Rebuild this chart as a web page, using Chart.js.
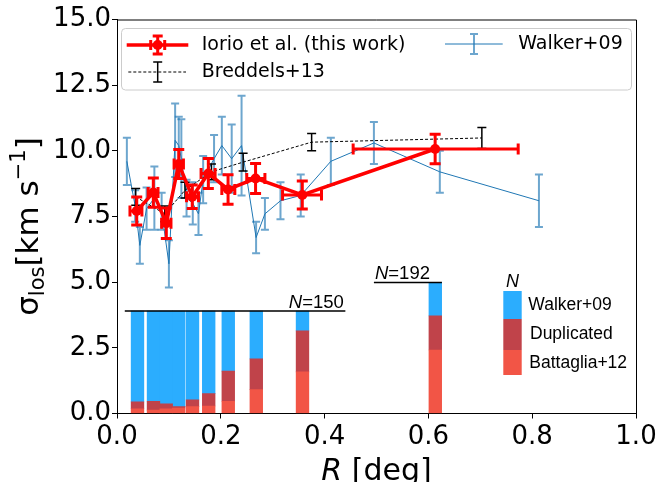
<!DOCTYPE html>
<html>
<head>
<meta charset="utf-8">
<script src="https://cdn.jsdelivr.net/npm/chart.js@4.4.0/dist/chart.umd.min.js"></script>
<style>
html,body{margin:0;padding:0;background:#fff;}
#wrap{width:671px;height:482px;}
</style>
</head>
<body>
<div id="wrap"><canvas id="chart" width="671" height="482"></canvas></div>
<script>
// Iorio et al. (this work): binned dispersion profile
const iorioR   = [0.038, 0.070, 0.095, 0.119, 0.145, 0.176, 0.214, 0.267, 0.357, 0.613];
const iorioRLo = [0.025, 0.060, 0.086, 0.110, 0.134, 0.162, 0.202, 0.250, 0.319, 0.455];
const iorioRHi = [0.048, 0.079, 0.104, 0.128, 0.157, 0.189, 0.227, 0.285, 0.394, 0.773];
const iorioSig = [7.71, 8.41, 7.24, 9.50, 8.25, 9.14, 8.53, 8.95, 8.32, 10.07];
const iorioErr = [0.53, 0.56, 0.58, 0.55, 0.45, 0.57, 0.56, 0.57, 0.53, 0.56];

// Breddels+13
const bredR   = [0.036, 0.092, 0.131, 0.182, 0.243, 0.375, 0.703];
const bredSig = [8.25, 7.60, 8.50, 9.20, 9.57, 10.33, 10.49];
const bredErr = [0.32, 0.30, 0.30, 0.30, 0.34, 0.33, 0.40];

// Walker+09
const walkR   = [0.019, 0.035, 0.044, 0.057, 0.072, 0.086, 0.100, 0.112, 0.119, 0.124, 0.134, 0.146, 0.157,
                 0.166, 0.187, 0.202, 0.221, 0.240, 0.268, 0.285, 0.315, 0.354, 0.412, 0.495, 0.622, 0.813];
const walkSig = [9.6, 7.9, 6.4, 7.8, 8.2, 7.7, 5.7, 10.4, 10.2, 9.7, 8.2, 8.0, 7.6,
                 8.9, 9.7, 10.2, 9.7, 10.2, 6.7, 7.6, 8.1, 8.3, 9.6, 10.3, 9.2, 8.1];
const walkErr = [0.9, 0.6, 0.7, 0.8, 1.2, 0.7, 0.9, 1.4, 1.1, 1.5, 0.7, 0.8, 0.8,
                 0.9, 0.9, 1.1, 1.3, 1.9, 0.6, 0.6, 0.7, 0.8, 0.9, 0.8, 0.8, 1.0];

// histogram of stars per radial bin
const binR        = [0.0395, 0.0703, 0.0948, 0.1189, 0.1455, 0.1767, 0.2144, 0.2684, 0.3574, 0.6133];
const nBattaglia  = [7, 5, 7, 8, 10, 11, 18, 35, 61, 93];
const nDuplicated = [10, 13, 7, 2, 10, 18, 44, 45, 60, 50];
const nWalker     = [133, 132, 136, 140, 130, 121, 88, 70, 29, 49];
const histScale = 3.9 / 150;   // stars -> axis units

const xTicks = [0, 0.2, 0.4, 0.6, 0.8, 1.0];
const yTicks = [0, 2.5, 5, 7.5, 10, 12.5, 15];

const RED = "#ff0000", BLUE = "#1f77b4", BLACK = "#000000";
const C_WALK = "#2badfe", C_DUP = "#c0434a", C_BAT = "#f25546";

function pts(xs, ys){ return xs.map((x,i)=>({x, y:ys[i]})); }

function histLayer(lo, hi){
  return binR.map((x,i)=>({x, y:[lo[i]*histScale, hi[i]*histScale]}));
}
const cumBat = nBattaglia;
const cumDup = nBattaglia.map((b,i)=>b+nDuplicated[i]);
const cumAll = cumDup.map((d,i)=>d+nWalker[i]);
const zeros = binR.map(()=>0);

const barBase = { type:"bar", grouped:false, barThickness:12.7, borderWidth:0, order:10 };

const errPlugin = {
  id:"errs",
  afterDatasetDraw(chart, args){
    const ds = chart.data.datasets[args.index];
    const e = ds.err;
    if(!e) return;
    const xs = chart.scales.x, ys = chart.scales.y, ctx = chart.ctx;
    ctx.save();
    ctx.strokeStyle = e.color; ctx.lineWidth = e.width; ctx.setLineDash([]);
    e.x.forEach((xv,i)=>{
      const px = xs.getPixelForValue(xv), py = ys.getPixelForValue(e.y[i]);
      const y0 = ys.getPixelForValue(e.y[i]-e.dy[i]), y1 = ys.getPixelForValue(e.y[i]+e.dy[i]);
      ctx.beginPath();
      ctx.moveTo(px,y0); ctx.lineTo(px,y1);
      ctx.moveTo(px-e.cap,y0); ctx.lineTo(px+e.cap,y0);
      ctx.moveTo(px-e.cap,y1); ctx.lineTo(px+e.cap,y1);
      if(e.xlo){
        const x0 = xs.getPixelForValue(e.xlo[i]), x1 = xs.getPixelForValue(e.xhi[i]);
        ctx.moveTo(x0,py); ctx.lineTo(x1,py);
        ctx.moveTo(x0,py-e.cap); ctx.lineTo(x0,py+e.cap);
        ctx.moveTo(x1,py-e.cap); ctx.lineTo(x1,py+e.cap);
      }
      ctx.stroke();
    });
    ctx.restore();
  }
};

function drawErrSymbol(ctx, cx, cy, h, cap, color, w, wx){
  ctx.strokeStyle = color; ctx.lineWidth = w; ctx.setLineDash([]);
  ctx.beginPath();
  ctx.moveTo(cx,cy-h); ctx.lineTo(cx,cy+h);
  ctx.moveTo(cx-cap,cy-h); ctx.lineTo(cx+cap,cy-h);
  ctx.moveTo(cx-cap,cy+h); ctx.lineTo(cx+cap,cy+h);
  if(wx){
    ctx.moveTo(cx-wx,cy-cap); ctx.lineTo(cx-wx,cy+cap);
    ctx.moveTo(cx+wx,cy-cap); ctx.lineTo(cx+wx,cy+cap);
  }
  ctx.stroke();
}

const decoPlugin = {
  id:"deco",
  afterDraw(chart){
    const ctx = chart.ctx, a = chart.chartArea, xs = chart.scales.x, ys = chart.scales.y;
    ctx.save();
    // frame top/right
    ctx.strokeStyle = "#000"; ctx.lineWidth = 1;
    ctx.beginPath();
    ctx.moveTo(a.left, a.top+0.5); ctx.lineTo(a.right+0.5, a.top+0.5); ctx.lineTo(a.right+0.5, a.bottom);
    ctx.stroke();

    // N annotations
    const yA = ys.getPixelForValue(cumAll[0]*histScale);
    const yB = ys.getPixelForValue(cumAll[9]*histScale);
    ctx.strokeStyle = "#000"; ctx.lineWidth = 1.5;
    ctx.beginPath();
    ctx.moveTo(xs.getPixelForValue(0.015), yA); ctx.lineTo(xs.getPixelForValue(0.44), yA);
    ctx.moveTo(xs.getPixelForValue(0.495), yB); ctx.lineTo(xs.getPixelForValue(0.626), yB);
    ctx.stroke();
    ctx.fillStyle = "#000"; ctx.textBaseline = "alphabetic";
    const drawN = (x, y, num, align) => {
      ctx.font = "italic 18.5px 'Liberation Sans'";
      const w1 = ctx.measureText("N").width;
      ctx.font = "18.5px 'Liberation Sans'";
      const t2 = "=" + num, w2 = ctx.measureText(t2).width;
      const x0 = align === "right" ? x - w1 - w2 : x;
      ctx.font = "italic 18.5px 'Liberation Sans'";
      ctx.textAlign = "left";
      ctx.fillText("N", x0, y);
      ctx.font = "18.5px 'Liberation Sans'";
      ctx.fillText(t2, x0 + w1, y);
    };
    drawN(xs.getPixelForValue(0.437), yA-3, cumAll[0], "right");
    drawN(xs.getPixelForValue(0.497), yB-3, cumAll[9], "left");

    // histogram legend
    ctx.fillStyle = C_WALK; ctx.fillRect(503.3, 291, 18.4, 28);
    ctx.fillStyle = C_DUP;  ctx.fillRect(503.3, 319, 18.4, 31);
    ctx.fillStyle = C_BAT;  ctx.fillRect(503.3, 350, 18.4, 25);
    ctx.fillStyle = "#000";
    ctx.font = "italic 18px 'Liberation Sans'"; ctx.textAlign = "center";
    ctx.fillText("N", 512.5, 287);
    ctx.font = "17.5px 'Liberation Sans'"; ctx.textAlign = "left"; ctx.textBaseline = "middle";
    ctx.fillText("Walker+09", 528.3, 305);
    ctx.fillText("Duplicated", 530, 334.5);
    ctx.fillText("Battaglia+12", 529.3, 363);

    // main legend
    ctx.fillStyle = "rgba(255,255,255,0.8)"; ctx.strokeStyle = "#cccccc"; ctx.lineWidth = 1;
    ctx.beginPath(); ctx.roundRect(121.5, 28.5, 510, 61.5, 4); ctx.fill(); ctx.stroke();
    // Iorio
    ctx.strokeStyle = RED; ctx.lineWidth = 3.5;
    ctx.beginPath(); ctx.moveTo(126.7, 45); ctx.lineTo(188.3, 45); ctx.stroke();
    drawErrSymbol(ctx, 157.7, 45, 9, 5, RED, 3, 7);
    ctx.fillStyle = RED; ctx.beginPath(); ctx.arc(157.7, 45, 5, 0, Math.PI*2); ctx.fill();
    // Breddels
    ctx.strokeStyle = BLACK; ctx.lineWidth = 1; ctx.setLineDash([3,2]);
    ctx.beginPath(); ctx.moveTo(128.3, 72); ctx.lineTo(186, 72); ctx.stroke();
    drawErrSymbol(ctx, 157.7, 72, 10, 4.5, BLACK, 1.5);
    // Walker
    ctx.strokeStyle = BLUE; ctx.lineWidth = 1; ctx.setLineDash([]);
    ctx.beginPath(); ctx.moveTo(445, 44); ctx.lineTo(502.7, 44); ctx.stroke();
    drawErrSymbol(ctx, 474, 44, 10, 4, "rgba(31,119,180,0.65)", 2);
    ctx.fillStyle = "#000"; ctx.font = "19px 'DejaVu Sans'"; ctx.textAlign = "left"; ctx.textBaseline = "middle";
    ctx.fillText("Iorio et al. (this work)", 201.7, 45);
    ctx.fillText("Breddels+13", 201.7, 72);
    ctx.fillText("Walker+09", 518.3, 44);

    // axis titles
    ctx.textBaseline = "alphabetic"; ctx.textAlign = "left";
    ctx.font = "italic 30px 'DejaVu Sans'";
    const wR = ctx.measureText("R").width;
    ctx.font = "30px 'DejaVu Sans'";
    const wRest = ctx.measureText(" [deg]").width;
    const cx = (a.left + a.right)/2, x0 = cx - (wR + wRest)/2;
    ctx.font = "italic 30px 'DejaVu Sans'"; ctx.fillText("R", x0, 480);
    ctx.font = "30px 'DejaVu Sans'"; ctx.fillText(" [deg]", x0 + wR, 480);

    ctx.translate(38, (a.top + a.bottom)/2 + 10);
    ctx.rotate(-Math.PI/2);
    const parts = [
      {t:"σ", s:31, dy:0}, {t:"los", s:21, dy:6}, {t:"[km s", s:31, dy:0},
      {t:"−1", s:21, dy:-13}, {t:"]", s:31, dy:0}
    ];
    let tot = 0;
    parts.forEach(p=>{ ctx.font = p.s+"px 'DejaVu Sans'"; p.w = ctx.measureText(p.t).width; tot += p.w; });
    let px = -tot/2;
    parts.forEach(p=>{ ctx.font = p.s+"px 'DejaVu Sans'"; ctx.fillText(p.t, px, p.dy); px += p.w; });
    ctx.restore();
  }
};

const tickFont = { family:"DejaVu Sans", size:26 };

new Chart(document.getElementById("chart"), {
  type:"line",
  data:{
    datasets:[
      Object.assign({ label:"Battaglia+12 hist", data:histLayer(zeros, cumBat), backgroundColor:C_BAT }, barBase),
      Object.assign({ label:"Duplicated hist", data:histLayer(cumBat, cumDup), backgroundColor:C_DUP }, barBase),
      Object.assign({ label:"Walker+09 hist", data:histLayer(cumDup, cumAll), backgroundColor:C_WALK }, barBase),
      {
        label:"Walker+09", data:pts(walkR, walkSig), borderColor:BLUE, borderWidth:1,
        pointRadius:0, tension:0, order:3,
        err:{ x:walkR, y:walkSig, dy:walkErr, cap:4, color:"rgba(31,119,180,0.65)", width:2 }
      },
      {
        label:"Breddels+13", data:pts(bredR, bredSig), borderColor:BLACK, borderWidth:1,
        borderDash:[3,2], pointRadius:0, tension:0, order:2,
        err:{ x:bredR, y:bredSig, dy:bredErr, cap:4.5, color:BLACK, width:1.5 }
      },
      {
        label:"Iorio et al. (this work)", data:pts(iorioR, iorioSig), borderColor:RED, borderWidth:3.5,
        pointRadius:5, pointBackgroundColor:RED, pointBorderWidth:0, tension:0, order:1,
        err:{ x:iorioR, y:iorioSig, dy:iorioErr, xlo:iorioRLo, xhi:iorioRHi, cap:5.5, color:RED, width:3 }
      }
    ]
  },
  options:{
    responsive:false, animation:false,
    layout:{ padding:{ left:0, right:35, top:19.5, bottom:0 } },
    plugins:{ legend:{ display:false }, tooltip:{ enabled:false } },
    scales:{
      x:{
        type:"linear", min:0, max:1, offset:false,
        afterBuildTicks: s => { s.ticks = xTicks.map(v=>({value:v})); },
        afterFit: s => { s.height = 68.5; },
        ticks:{ font:tickFont, color:"#000", padding:3, callback:v=>v.toFixed(1), maxRotation:0, autoSkip:false },
        grid:{ drawOnChartArea:false, drawTicks:true, tickLength:5, color:"#000", offset:false },
        border:{ display:true, color:"#000", width:1 }
      },
      y:{
        type:"linear", min:0, max:15,
        afterBuildTicks: s => { s.ticks = yTicks.map(v=>({value:v})); },
        afterFit: s => { s.width = 117; },
        ticks:{ font:tickFont, color:"#000", padding:1, callback:v=>v.toFixed(1), autoSkip:false },
        grid:{ drawOnChartArea:false, drawTicks:true, tickLength:5, color:"#000" },
        border:{ display:true, color:"#000", width:1 }
      }
    }
  },
  plugins:[errPlugin, decoPlugin]
});
</script>
</body>
</html>
